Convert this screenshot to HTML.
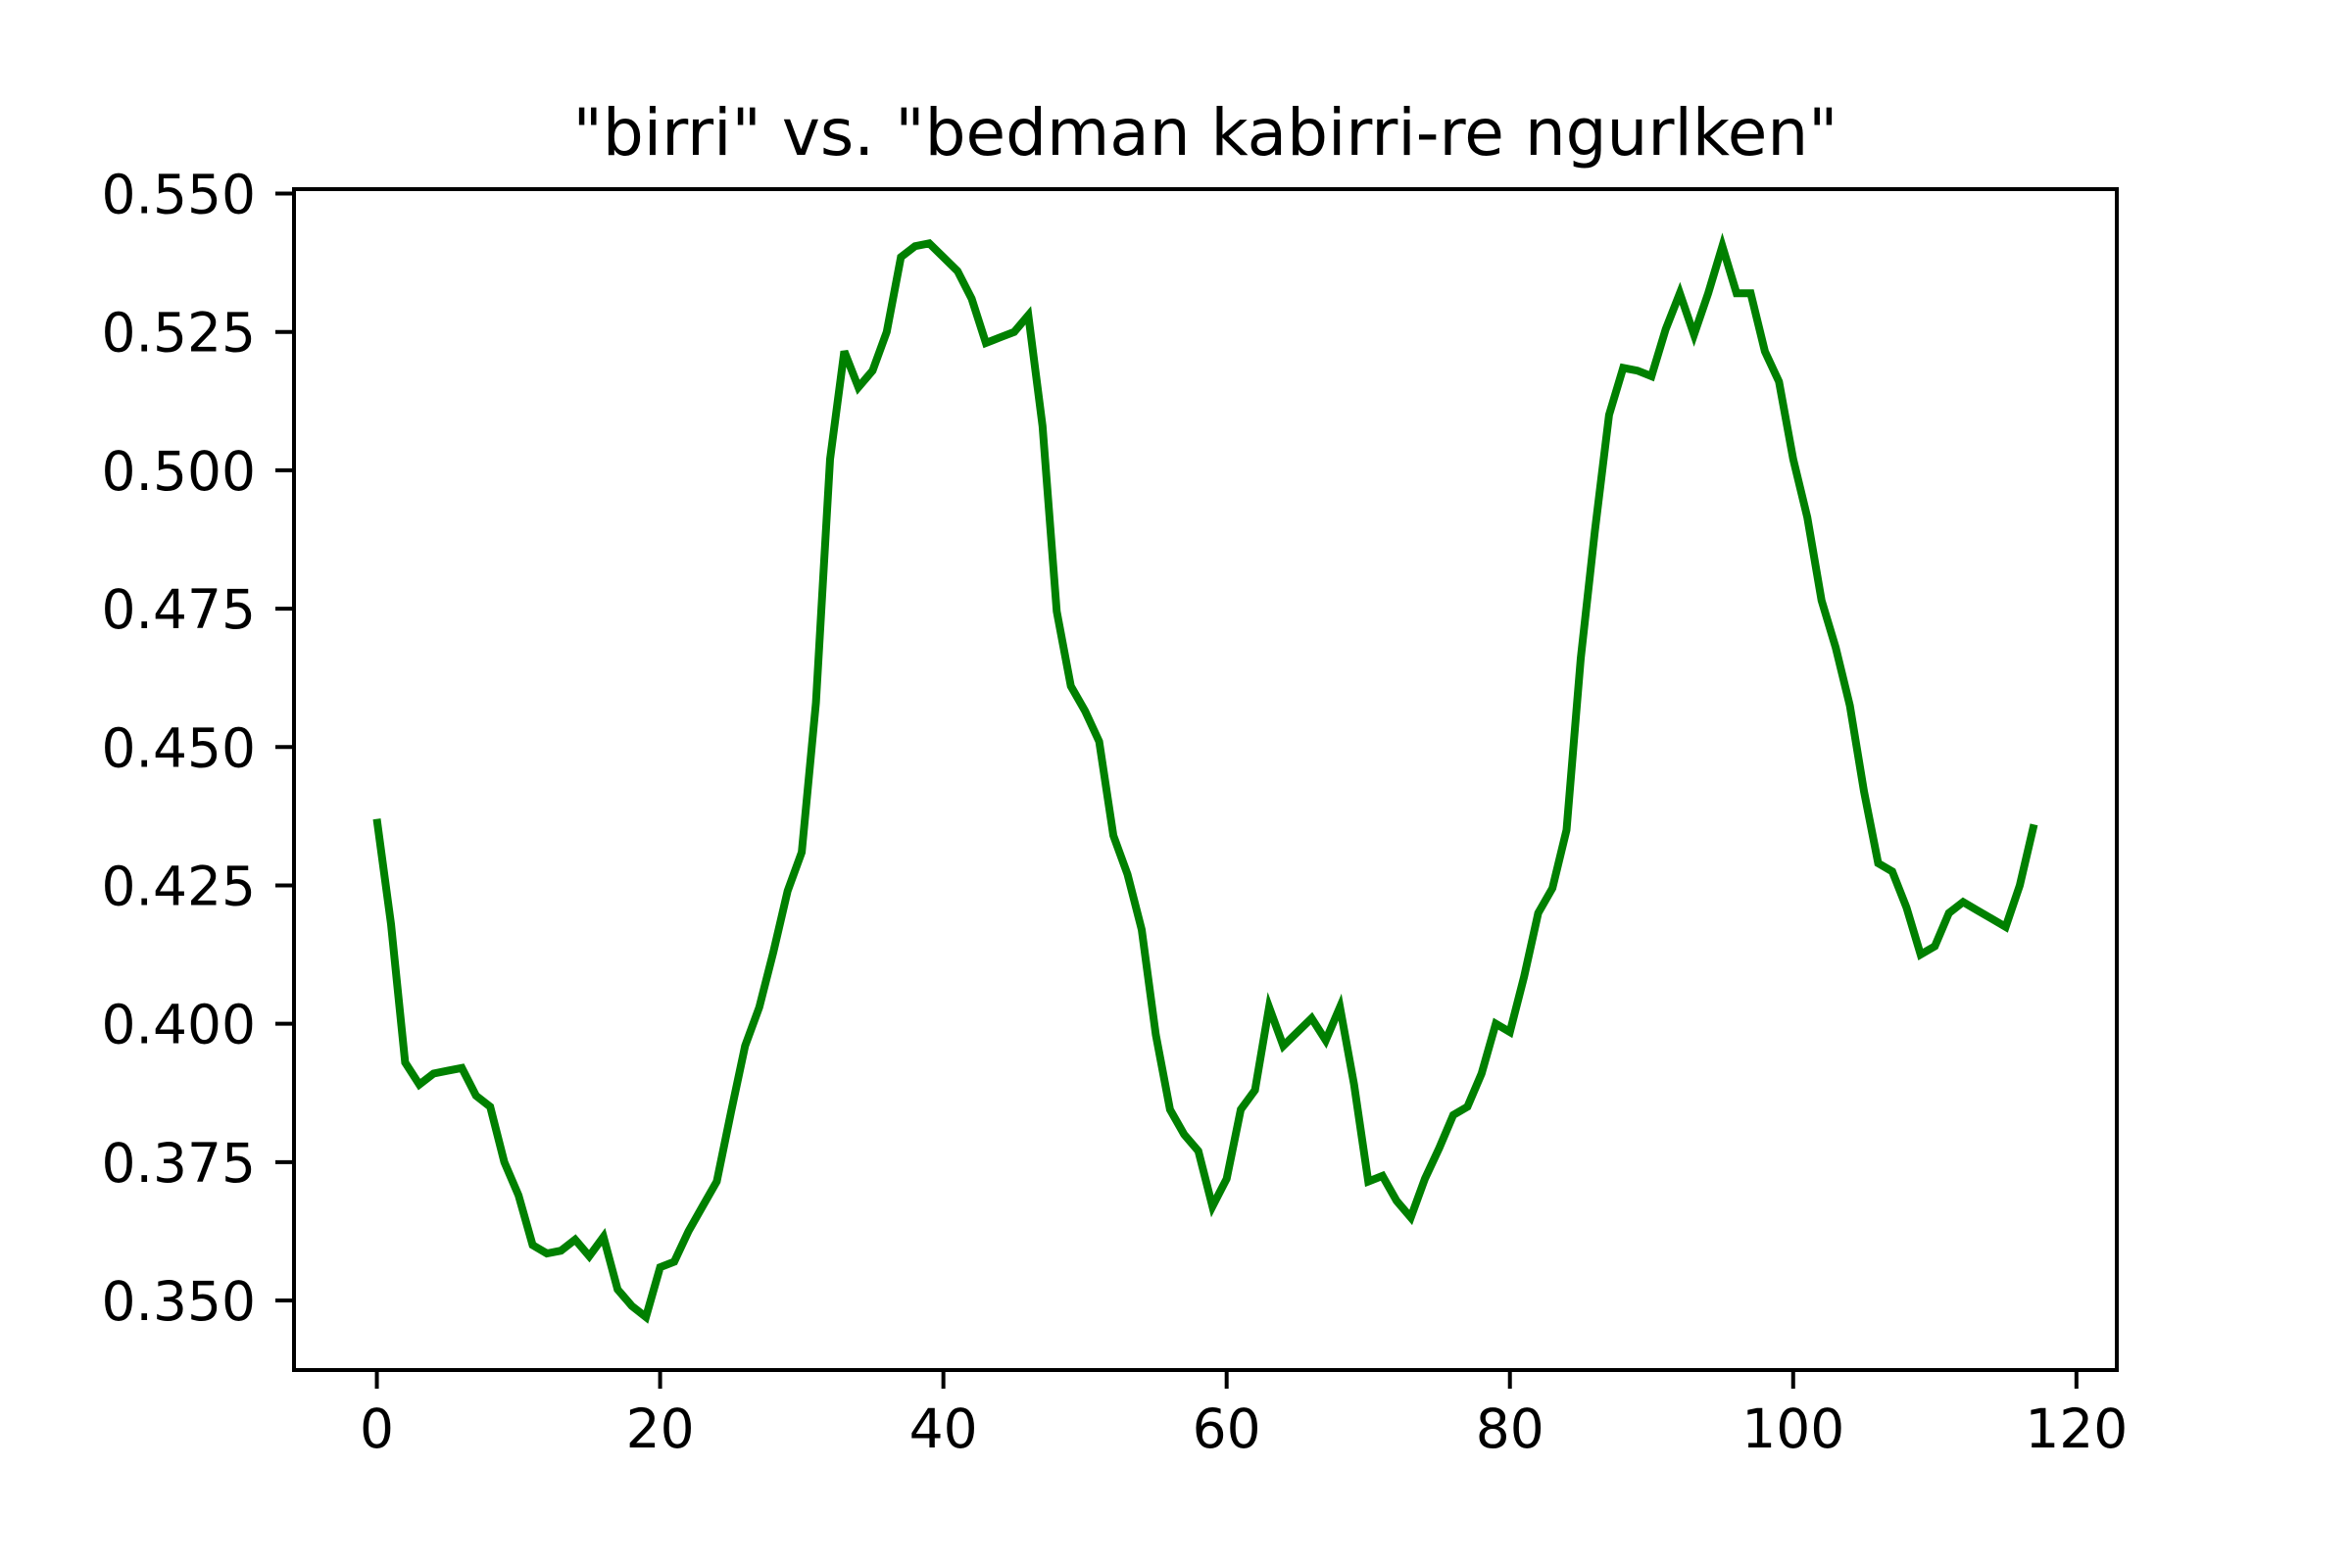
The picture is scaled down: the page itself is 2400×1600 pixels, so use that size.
<!DOCTYPE html>
<html><head><meta charset="utf-8"><style>
html,body{margin:0;padding:0;background:#fff;}
svg{display:block;font-family:"DejaVu Sans","Liberation Sans",sans-serif;}
</style></head><body>
<svg id="chart" width="2400" height="1600" viewBox="0 0 2400 1600">
<rect width="2400" height="1600" fill="#fff"/>
<text x="1230" y="158" font-size="66" text-anchor="middle">"birri" vs. "bedman kabirri-re ngurlken"</text>
<g id="xt"></g>
<g id="yt"></g>
<polyline id="line" fill="none" stroke="#008000" stroke-width="8" stroke-linejoin="miter"/>
<rect id="frame" fill="none" stroke="#000" stroke-width="4"/>
</svg>
<script>
const yValues=[0.437,0.418,0.393,0.389,0.391,0.3915,0.392,0.387,0.385,0.375,0.369,0.360,0.3585,0.359,0.361,0.358,0.3615,0.352,0.349,0.347,0.356,0.357,0.3625,0.367,0.3715,0.384,0.396,0.403,0.413,0.424,0.431,0.458,0.502,0.5215,0.515,0.518,0.525,0.5385,0.5405,0.541,0.5385,0.536,0.531,0.523,0.524,0.525,0.528,0.508,0.4745,0.461,0.4565,0.451,0.434,0.427,0.417,0.398,0.3845,0.380,0.377,0.367,0.372,0.3845,0.388,0.403,0.396,0.3985,0.401,0.397,0.403,0.389,0.3715,0.3725,0.368,0.365,0.372,0.3775,0.3835,0.385,0.391,0.400,0.3985,0.4085,0.420,0.4245,0.435,0.466,0.489,0.510,0.5185,0.518,0.517,0.5255,0.532,0.5245,0.532,0.5405,0.532,0.532,0.5215,0.516,0.502,0.4915,0.4765,0.468,0.4575,0.442,0.429,0.4275,0.421,0.4125,0.414,0.420,0.422,0.4205,0.419,0.4175,0.425,0.436];
const xTicks=[0,20,40,60,80,100,120];
const yTicks=[0.350,0.375,0.400,0.425,0.450,0.475,0.500,0.525,0.550];
const yTickLabels=["0.350","0.375","0.400","0.425","0.450","0.475","0.500","0.525","0.550"];
const L=300,R=2160,T=193,B=1398;
const xMin=-5.85,xMax=122.85;
const yRef0=0.350,yRef1=0.550,yPx0=1327,yPx1=197.5;
const sx=v=>L+(v-xMin)/(xMax-xMin)*(R-L);
const sy=v=>yPx0+(v-yRef0)/(yRef1-yRef0)*(yPx1-yPx0);
const NS="http://www.w3.org/2000/svg";
const line=document.getElementById('line');
line.setAttribute('points',yValues.map((v,i)=>sx(i).toFixed(1)+','+sy(v).toFixed(1)).join(' '));
const fr=document.getElementById('frame');
fr.setAttribute('x',L);fr.setAttribute('y',T);fr.setAttribute('width',R-L);fr.setAttribute('height',B-T);
const xg=document.getElementById('xt');
xTicks.forEach(t=>{
 const x=sx(t);
 const l=document.createElementNS(NS,'line');
 
 
 l.setAttribute('x1',x);l.setAttribute('x2',x);l.setAttribute('y1',B);l.setAttribute('y2',B+19);l.setAttribute('stroke','#000');l.setAttribute('stroke-width','4');
 xg.appendChild(l);
 const tx=document.createElementNS(NS,'text');
 
 
 tx.setAttribute('x',x);tx.setAttribute('y',B+79);tx.setAttribute('font-size','55');tx.setAttribute('text-anchor','middle');
 tx.textContent=String(t);
 xg.appendChild(tx);
});
const yg=document.getElementById('yt');
yTicks.forEach((t,i)=>{
 const y=sy(t);
 const l=document.createElementNS(NS,'line');
 
 
 l.setAttribute('x1',L-19);l.setAttribute('x2',L);l.setAttribute('y1',y);l.setAttribute('y2',y);l.setAttribute('stroke','#000');l.setAttribute('stroke-width','4');
 yg.appendChild(l);
 const tx=document.createElementNS(NS,'text');
 
 
 tx.setAttribute('x',L-39);tx.setAttribute('y',y+20);tx.setAttribute('font-size','55');tx.setAttribute('text-anchor','end');
 tx.textContent=yTickLabels[i];
 yg.appendChild(tx);
});
</script>
</body></html>
